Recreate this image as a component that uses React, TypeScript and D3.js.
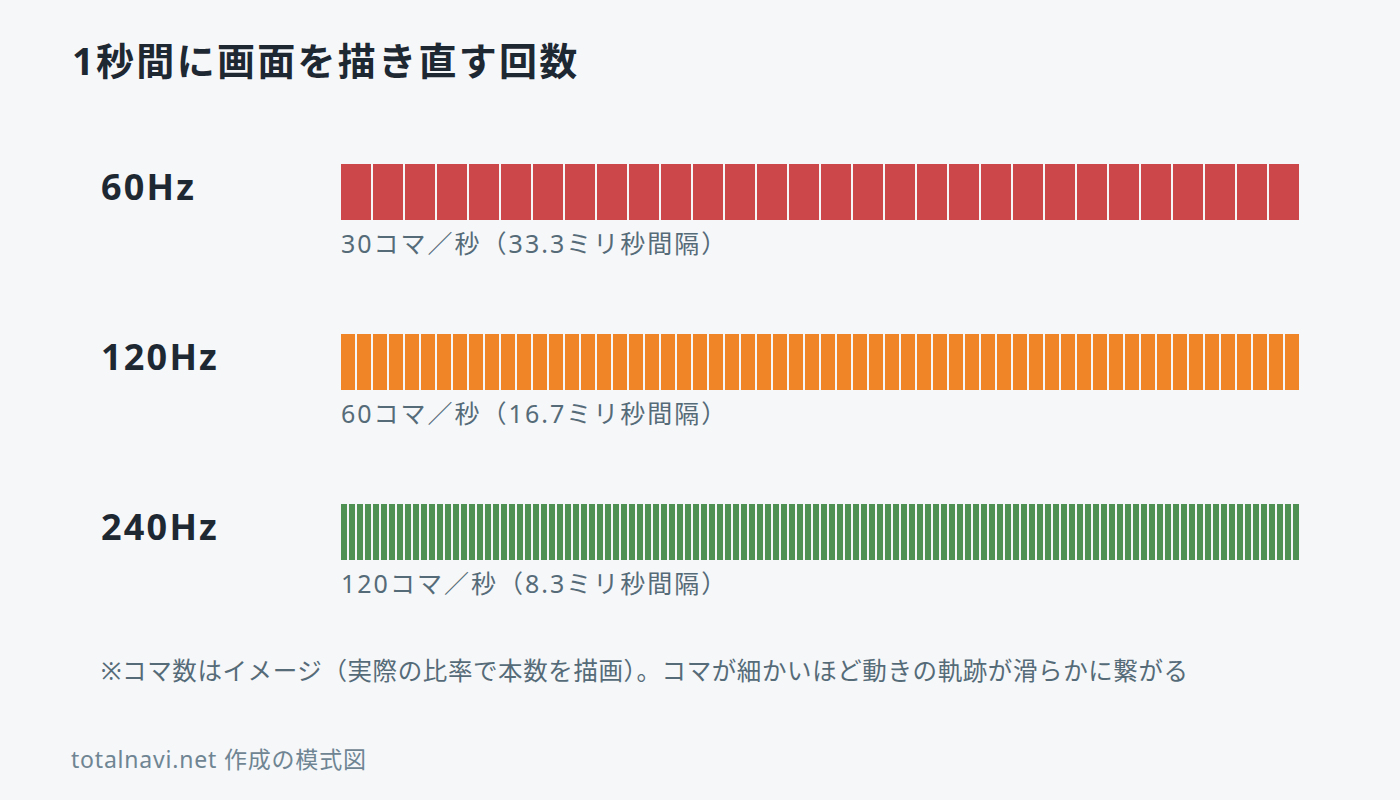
import { useEffect, useRef } from "react";
import * as d3 from "d3";

// 1秒間のリフレッシュ回数をコマで見せる模式図
const rates = ["60Hz", "120Hz", "240Hz"];
const frames = [30, 60, 120];
const captions = [
  "30コマ／秒（33.3ミリ秒間隔）",
  "60コマ／秒（16.7ミリ秒間隔）",
  "120コマ／秒（8.3ミリ秒間隔）",
];
const colors = ["#cc4749", "#f08528", "#4f9152"];

const TITLE = "1秒間に画面を描き直す回数";
const NOTE = "※コマ数はイメージ（実際の比率で本数を描画）。コマが細かいほど動きの軌跡が滑らかに繋がる";
const SOURCE = "totalnavi.net 作成の模式図";

const W = 1400;
const H = 800;
const FONT = "'Noto Sans', 'Noto Sans CJK JP', sans-serif";

export default function App() {
  const svgRef = useRef<SVGSVGElement | null>(null);

  useEffect(() => {
    const svg = d3.select(svgRef.current);
    svg.selectAll("*").remove();

    svg.append("rect").attr("width", W).attr("height", H).attr("fill", "#f5f7f9");

    svg
      .append("text")
      .attr("x", 72)
      .attr("y", 75)
      .attr("font-size", 38)
      .attr("font-weight", 700)
      .attr("letter-spacing", 2.3)
      .attr("fill", "#1e2833")
      .text(TITLE);

    // rows
    const row = d3.scaleBand<string>().domain(rates).range([164, 674]).paddingInner(0);
    const barH = 56;
    const x0 = 341;
    const x1 = 1299;

    rates.forEach((r, i) => {
      const y = row(r)!;
      const g = svg.append("g");
      g.append("text")
        .attr("x", 101)
        .attr("y", y + 36)
        .attr("font-size", 36)
        .attr("font-weight", 700)
        .attr("letter-spacing", 2.2)
        .attr("fill", "#1e2833")
        .text(r);

      const x = d3
        .scaleBand<number>()
        .domain(d3.range(frames[i]))
        .range([x0, x1 + 2]);
      const gap = 2;
      g.selectAll("rect")
        .data(d3.range(frames[i]))
        .join("rect")
        .attr("x", (d) => x(d)!)
        .attr("y", y)
        .attr("width", x.bandwidth() - gap)
        .attr("height", barH)
        .attr("fill", colors[i]);

      g.append("text")
        .attr("x", 341)
        .attr("y", y + barH + 33)
        .attr("font-size", 25)
        .attr("letter-spacing", 2)
        .attr("fill", "#566b78")
        .text(captions[i]);
    });

    svg
      .append("text")
      .attr("x", 101)
      .attr("y", 680)
      .attr("font-size", 24.5)
      .attr("letter-spacing", 0.6)
      .attr("fill", "#566b78")
      .text(NOTE);

    svg
      .append("text")
      .attr("x", 71)
      .attr("y", 768)
      .attr("font-size", 23)
      .attr("letter-spacing", 0.8)
      .attr("fill", "#6f8593")
      .text(SOURCE);
  }, []);

  return (
    <svg
      ref={svgRef}
      width={W}
      height={H}
      style={{ position: "absolute", left: 0, top: 0, fontFamily: FONT }}
    />
  );
}
